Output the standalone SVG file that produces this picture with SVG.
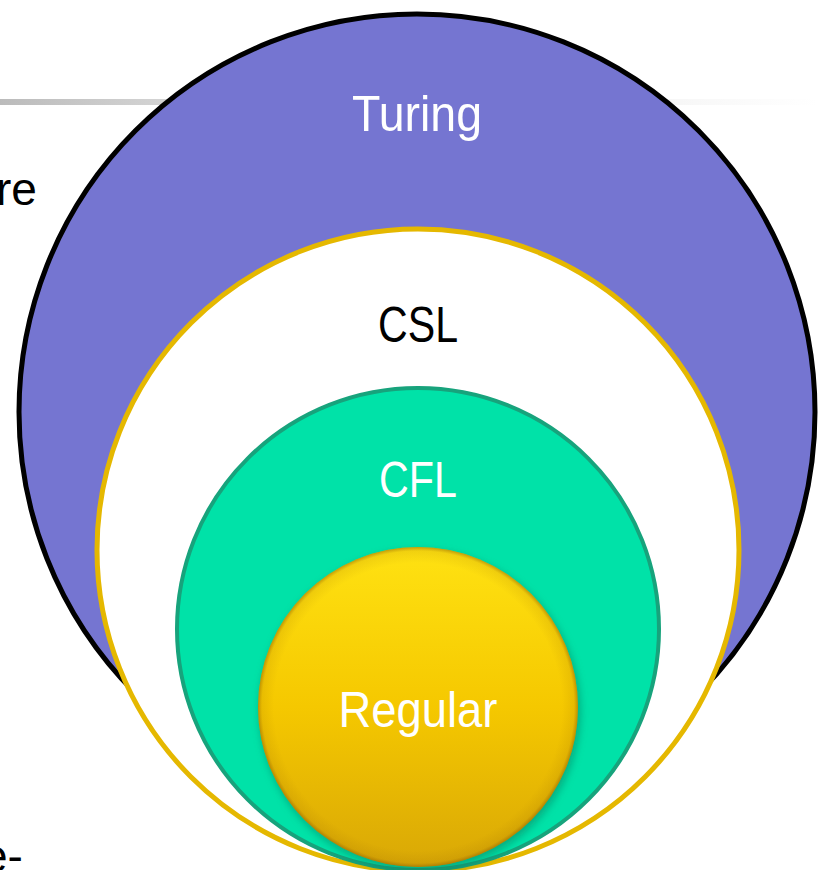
<svg xmlns="http://www.w3.org/2000/svg" width="818" height="870" viewBox="0 0 818 870">
  <defs>
    <linearGradient id="bar" x1="0" y1="0" x2="818" y2="0" gradientUnits="userSpaceOnUse">
      <stop offset="0" stop-color="#BBBBBB"/>
      <stop offset="0.22" stop-color="#D6D6D6"/>
      <stop offset="0.85" stop-color="#F8F8F8"/>
      <stop offset="1" stop-color="#FFFFFF"/>
    </linearGradient>
    <linearGradient id="regFill" x1="0" y1="0" x2="0" y2="1">
      <stop offset="0" stop-color="#FFE212"/>
      <stop offset="0.5" stop-color="#F5C800"/>
      <stop offset="1" stop-color="#D9A806"/>
    </linearGradient>
    <radialGradient id="regEdge" cx="0.5" cy="0.5" r="0.5">
      <stop offset="0.9" stop-color="#8A5A00" stop-opacity="0"/>
      <stop offset="0.975" stop-color="#8A5A00" stop-opacity="0.12"/>
      <stop offset="1" stop-color="#7A4A00" stop-opacity="0.45"/>
    </radialGradient>
    <filter id="shadow" x="-20%" y="-20%" width="140%" height="140%">
      <feGaussianBlur stdDeviation="4"/>
    </filter>
    <style>
      .lbl { font-family: "Liberation Sans", Arial, sans-serif; font-size: 50px; text-anchor: middle; }
      .side { font-family: "Liberation Sans", Arial, sans-serif; font-size: 46px; fill: #000; }
    </style>
  </defs>

  <rect x="0" y="99" width="818" height="6" fill="url(#bar)"/>

  <text class="side" x="-4" y="205">re</text>
  <text class="side" x="-18" y="872">e-</text>

  <g id="turing">
    <circle cx="417" cy="412" r="398" fill="#7575D1" stroke="#000" stroke-width="5"/>
    <text class="lbl" x="417" y="131" fill="#FFFFFF" textLength="130" lengthAdjust="spacingAndGlyphs">Turing</text>
  </g>

  <g id="csl">
    <circle cx="418" cy="550" r="321" fill="#FFFFFF" stroke="#E5B800" stroke-width="5"/>
    <text class="lbl" x="418" y="342" fill="#000000" textLength="80" lengthAdjust="spacingAndGlyphs">CSL</text>
  </g>

  <g id="cfl">
    <circle cx="418" cy="629" r="241" fill="#00E2A8" stroke="#17A37C" stroke-width="4"/>
    <text class="lbl" x="418" y="497" fill="#FFFFFF" textLength="78" lengthAdjust="spacingAndGlyphs">CFL</text>
  </g>

  <g id="regular">
    <circle cx="420" cy="711" r="160" fill="#0A7A58" opacity="0.55" filter="url(#shadow)"/>
    <circle cx="418" cy="707" r="160" fill="url(#regFill)"/>
    <circle cx="418" cy="707" r="160" fill="url(#regEdge)"/>
    <text class="lbl" x="418" y="727" fill="#FFFFFF" textLength="159" lengthAdjust="spacingAndGlyphs">Regular</text>
  </g>

  <g id="connectors"/>
</svg>
